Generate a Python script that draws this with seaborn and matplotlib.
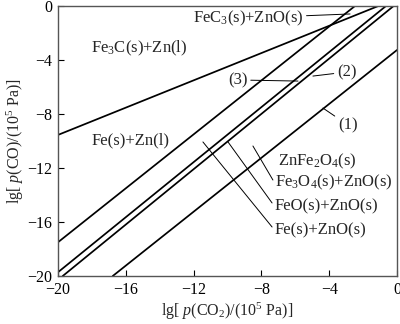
import matplotlib
matplotlib.use("Agg")
import matplotlib.pyplot as plt
import seaborn as sns
import pandas as pd

sns.set_style("ticks")
plt.rcParams['font.family'] = ['Liberation Serif', 'DejaVu Serif']
plt.rcParams['mathtext.fontset'] = 'custom'
plt.rcParams['mathtext.rm'] = 'Liberation Serif'
plt.rcParams['mathtext.it'] = 'Liberation Serif:italic'
plt.rcParams['mathtext.bf'] = 'Liberation Serif:bold'

# Boundary lines (endpoints): lg p(CO2) vs lg p(CO)
fe3c_x = [-20.0, -1.1]
fe3c_y = [-9.55, 0.0]
fezn_x = [-20.0, -2.48]
fezn_y = [-17.5, 0.0]
line2_x = [-20.0, -0.65]
line2_y = [-19.72, 0.0]
line3_x = [-19.72, -0.2]
line3_y = [-20.0, 0.0]
line1_x = [-16.77, 0.0]
line1_y = [-20.0, -3.26]

ticks = [-20, -16, -12, -8, -4, 0]

frames = []
for name, xs, ys in [("a", fe3c_x, fe3c_y), ("b", fezn_x, fezn_y),
                     ("2", line2_x, line2_y), ("3", line3_x, line3_y),
                     ("1", line1_x, line1_y)]:
    frames.append(pd.DataFrame({"x": xs, "y": ys, "line": name}))
df = pd.concat(frames, ignore_index=True)

fig = plt.figure(figsize=(4.0, 3.24), dpi=100)
ax = fig.add_axes([58/400, 1-276/324, (397-58)/400, (276-6)/324])

sns.lineplot(data=df, x="x", y="y", units="line", estimator=None, sort=False,
             color="black", lw=1.25, ax=ax, legend=False)

ax.set_xlim(-20, 0)
ax.set_ylim(-20, 0)
ax.set_xticks(ticks)
ax.set_yticks(ticks)
ax.tick_params(direction="in", length=4, width=0.8, labelsize=11.5, pad=4,
               colors="black", top=False, right=False)
for s in ax.spines.values():
    s.set_visible(True)
    s.set_linewidth(1.0)
    s.set_color("#555555")

ax.set_xlabel(r"lg[ $p$(CO$_2$)/(10$^5$ Pa)]", fontsize=11.5, labelpad=2)
ax.set_ylabel(r"lg[ $p$(CO)/(10$^5$ Pa)]", fontsize=11.5, labelpad=1)

fs = 12
lead = dict(arrowstyle="-", lw=0.7, color="black", shrinkA=0, shrinkB=0)

ax.text(-18.05, -3.11, r"Fe$_3$C(s)+Zn(l)", fontsize=fs, va="center", ha="left")
ax.text(-18.05, -9.93, r"Fe(s)+Zn(l)", fontsize=fs, va="center", ha="left")
ax.text(-7.02, -11.48, r"ZnFe$_2$O$_4$(s)", fontsize=fs, va="center", ha="left")

ax.annotate(r"FeC$_3$(s)+ZnO(s)", xy=(-2.77, -0.59), xytext=(-12.04, -0.89),
            fontsize=fs, va="center", ha="left", arrowprops=lead)
ax.annotate("(3)", xy=(-5.84, -5.56), xytext=(-9.97, -5.48),
            fontsize=fs, va="center", ha="left", arrowprops=lead)
ax.annotate("(2)", xy=(-4.96, -5.19), xytext=(-3.54, -4.89),
            fontsize=fs, va="center", ha="left", arrowprops=lead)
ax.annotate("(1)", xy=(-4.37, -7.56), xytext=(-3.48, -8.81),
            fontsize=fs, va="center", ha="left", arrowprops=lead)

ax.text(-7.2, -13.04, r"Fe$_3$O$_4$(s)+ZnO(s)", fontsize=fs, va="center", ha="left")
ax.text(-7.2, -14.81, r"FeO(s)+ZnO(s)", fontsize=fs, va="center", ha="left")
ax.text(-7.25, -16.59, r"Fe(s)+ZnO(s)", fontsize=fs, va="center", ha="left")

leaders = [((-8.50, -10.37), (-7.32, -12.89)),
           ((-9.97, -10.07), (-7.37, -14.59)),
           ((-11.45, -10.07), (-7.37, -16.37))]
for (x0, y0), (x1, y1) in leaders:
    ax.plot([x0, x1], [y0, y1], color="black", lw=0.7)

fig.savefig("out.png", dpi=100)
